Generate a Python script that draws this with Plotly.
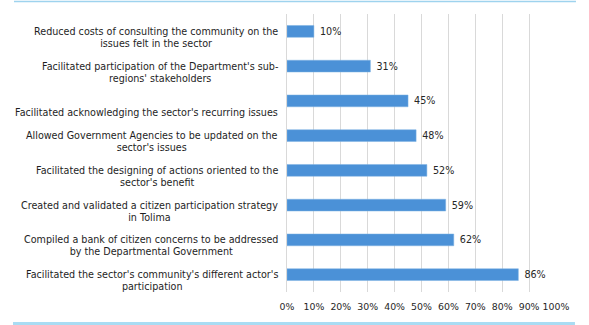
import plotly.graph_objects as go

categories = [
    "Reduced costs of consulting the community on the<br>issues felt in the sector",
    "Facilitated participation of the Department's sub-<br>regions' stakeholders",
    "Facilitated acknowledging the sector's recurring issues",
    "Allowed Government Agencies to be updated on the<br>sector's issues",
    "Facilitated the designing of actions oriented to the<br>sector's benefit",
    "Created and validated a citizen participation strategy<br>in Tolima",
    "Compiled a bank of citizen concerns to be addressed<br>by the Departmental Government",
    "Facilitated the sector's community's different actor's<br>participation",
]
values = [0.10, 0.31, 0.45, 0.48, 0.52, 0.59, 0.62, 0.86]
value_labels = ["10%", "31%", "45%", "48%", "52%", "59%", "62%", "86%"]
tick_vals = [0, 0.1, 0.2, 0.3, 0.4, 0.5, 0.6, 0.7, 0.8, 0.9, 1.0]
tick_text = ["0%", "10%", "20%", "30%", "40%", "50%", "60%", "70%", "80%", "90%", "100%"]

W, H = 589, 325
ML, MR, MT, MB = 286.5, 33, 14, 33
PW = W - ML - MR
PH = H - MT - MB
FONT = "DejaVu Sans"
TXT = "#262626"

def px_x(p):
    return (p - ML) / PW

def px_y(p):
    return (H - MB - p) / PH

ids = list(range(len(categories)))

fig = go.Figure(go.Bar(
    x=values, y=ids, orientation="h",
    marker=dict(color="#4B91D7", line=dict(color="#7FB3E3", width=0.5)),
    width=0.34,
    text=value_labels, texttemplate="\u00a0%{text}",
    textposition="outside", cliponaxis=False, constraintext="none",
    textfont=dict(family=FONT, size=9.6, color=TXT),
    hoverinfo="skip",
))

annotations = []
for i, c in enumerate(categories):
    shift = -6 if "<br>" in c else -12
    annotations.append(dict(
        x=px_x(279), xref="paper", xanchor="right",
        y=i, yref="y", yanchor="middle", yshift=shift,
        text=c, showarrow=False, align="center",
        font=dict(family=FONT, size=9.6, color="#1E1E1E"),
    ))

shapes = [
    dict(type="line", xref="paper", yref="paper",
         x0=px_x(13), x1=px_x(576), y0=px_y(1.5), y1=px_y(1.5),
         line=dict(color="#9ED3EE", width=1.5)),
    dict(type="line", xref="paper", yref="paper",
         x0=px_x(12), x1=px_x(575), y0=px_y(323.5), y1=px_y(323.5),
         line=dict(color="#A9DCF3", width=3)),
]

fig.update_layout(
    width=W, height=H,
    margin=dict(l=ML, r=MR, t=MT, b=MB, pad=0),
    paper_bgcolor="white", plot_bgcolor="white",
    showlegend=False,
    annotations=annotations,
    shapes=shapes,
    xaxis=dict(range=[0, 1.0], tickvals=tick_vals, ticktext=tick_text,
               showgrid=True, gridcolor="#D9D9D9", gridwidth=1,
               zeroline=False, showline=False, ticks="",
               ticklabelstandoff=8,
               tickfont=dict(family=FONT, size=9.4, color=TXT),
               fixedrange=True),
    yaxis=dict(range=[len(categories) - 0.5, -0.5], tickvals=[],
               showgrid=False, zeroline=False, showline=True,
               linecolor="#D9D9D9", linewidth=1, fixedrange=True),
)

fig.write_html(
    "out.html",
    config={"displayModeBar": False},
    post_script="document.body.style.margin='0';document.body.style.overflow='hidden';",
)
